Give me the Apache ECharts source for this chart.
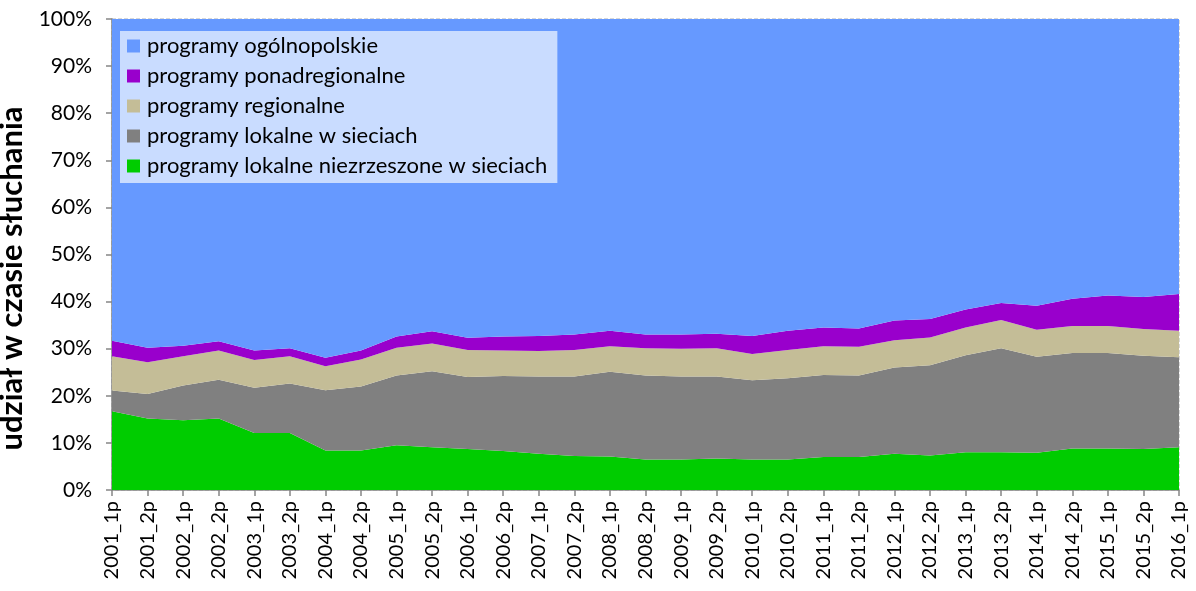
<!DOCTYPE html>
<html><head><meta charset="utf-8">
<script src="https://cdn.jsdelivr.net/npm/echarts@6/dist/echarts.min.js"></script>
<style>html,body{margin:0;padding:0;background:#fff}#c{width:1196px;height:591px}</style>
</head><body><div id="c"></div>
<script>
const categories = ["2001_1p","2001_2p","2002_1p","2002_2p","2003_1p","2003_2p","2004_1p","2004_2p","2005_1p","2005_2p","2006_1p","2006_2p","2007_1p","2007_2p","2008_1p","2008_2p","2009_1p","2009_2p","2010_1p","2010_2p","2011_1p","2011_2p","2012_1p","2012_2p","2013_1p","2013_2p","2014_1p","2014_2p","2015_1p","2015_2p","2016_1p"];
const niezrzeszone = [16.7,15.2,14.8,15.2,12.1,12.1,8.4,8.4,9.5,9.1,8.7,8.3,7.7,7.2,7.1,6.5,6.5,6.7,6.5,6.5,7.0,7.0,7.7,7.3,8.0,8.0,7.9,8.8,8.8,8.7,9.1];
const lokalneSieci = [4.4,5.2,7.4,8.2,9.6,10.5,12.8,13.6,14.8,16.1,15.3,15.9,16.4,16.9,18.0,17.8,17.6,17.4,16.8,17.2,17.4,17.3,18.3,19.2,20.6,22.1,20.4,20.3,20.3,19.8,19.1];
const regionalne = [7.3,6.7,6.2,6.2,5.9,5.8,5.1,5.7,5.9,5.9,5.7,5.4,5.4,5.6,5.4,5.8,5.9,6.0,5.6,6.0,6.1,6.1,5.8,5.9,5.9,6.0,5.7,5.7,5.7,5.7,5.6];
const ponadregionalne = [3.3,3.1,2.2,2.0,2.0,1.7,1.8,1.9,2.4,2.6,2.6,3.0,3.2,3.3,3.3,2.9,3.0,3.1,3.8,4.1,4.0,3.9,4.2,3.9,3.8,3.6,5.1,5.8,6.5,6.8,7.8];
const ogolnopolskie = [68.3,69.8,69.4,68.4,70.4,69.9,71.9,70.4,67.4,66.3,67.7,67.4,67.3,67.0,66.2,67.0,67.0,66.8,67.3,66.2,65.5,65.7,64.0,63.7,61.7,60.3,60.9,59.4,58.7,59.0,58.4];
const yTicks = ["0%","10%","20%","30%","40%","50%","60%","70%","80%","90%","100%"];

const names = ["programy lokalne niezrzeszone w sieciach","programy lokalne w sieciach","programy regionalne","programy ponadregionalne","programy ogólnopolskie"];
const colors = ["#00cc00","#808080","#c4bd97","#9900cc","#6699ff"];
const dataSets = [niezrzeszone, lokalneSieci, regionalne, ponadregionalne, ogolnopolskie];
const FONT = "Lato, 'Open Sans', sans-serif";

const chart = echarts.init(document.getElementById('c'));
chart.setOption({
  animation:false,
  textStyle:{fontFamily:FONT},
  grid:{left:112,right:17,top:19,bottom:101, outerBoundsMode:'none', containLabel:false,
        show:true, borderColor:'#b0b0b0', borderWidth:1, borderType:'dashed', backgroundColor:'transparent'},
  legend:{
    orient:'vertical', left:120, top:31,
    backgroundColor:'#c9dcff', padding:[4,10,6,7],
    itemWidth:13, itemHeight:13, itemGap:8, icon:'rect',
    textStyle:{fontFamily:FONT, fontSize:22, color:'#000', lineHeight:22, padding:[0,0,0,2]},
    data:[names[4],names[3],names[2],names[1],names[0]]
  },
  xAxis:{
    type:'category', data:categories, boundaryGap:false,
    axisLine:{lineStyle:{color:'#868686',width:1.5}},
    axisTick:{alignWithLabel:true,length:6,lineStyle:{color:'#868686',width:1.5}},
    axisLabel:{rotate:90, fontSize:20, color:'#000', margin:11, interval:0, fontFamily:FONT}
  },
  yAxis:{
    type:'value', min:0, max:100, interval:10,
    name:'udział w czasie słuchania', nameLocation:'middle', nameGap:53,
    nameTextStyle:{fontSize:31, fontWeight:'bold', color:'#000', fontFamily:FONT, padding:[0,48,0,0]},
    axisLine:{show:true,lineStyle:{color:'#868686',width:1.5}},
    axisTick:{show:true,length:6,lineStyle:{color:'#868686',width:1.5}},
    splitLine:{show:false},
    axisLabel:{fontSize:21, color:'#000', margin:20, fontFamily:FONT, formatter:(v)=>yTicks[Math.round(v/10)]}
  },
  series: dataSets.map((d,i)=>({
    name:names[i], type:'line', stack:'total', data:d,
    showSymbol:false, symbol:'none',
    lineStyle:{width:0}, itemStyle:{color:colors[i]},
    areaStyle:{color:colors[i], opacity:1}
  }))
});
</script></body></html>
